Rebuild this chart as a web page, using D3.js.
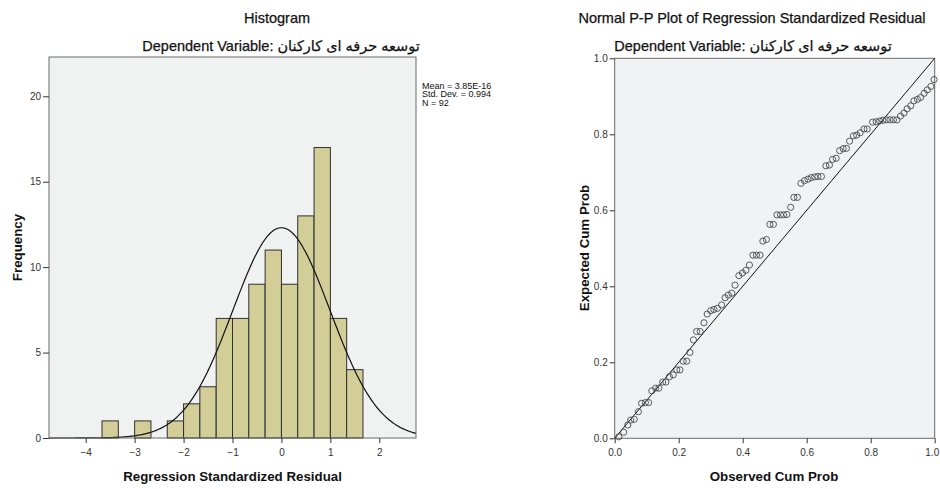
<!DOCTYPE html>
<html>
<head>
<meta charset="utf-8">
<script src="https://cdn.jsdelivr.net/npm/d3@7"></script>
<style>
  body { margin: 0; background: #fff; }
  text { font-family: "Liberation Sans", Arial, "DejaVu Sans", sans-serif; }
</style>
</head>
<body>
<script>
// histogram data (bins of width 1/3)
const binStarts = [-3.667, -3.333, -3.0, -2.667, -2.333, -2.0, -1.667, -1.333,
  -1.0, -0.667, -0.333, 0, 0.333, 0.667, 1.0, 1.333];
const binCounts = [1, 0, 1, 0, 1, 2, 3, 7, 7, 9, 11, 9, 13, 17, 7, 4];
const binWidth = 1 / 3;
const histXTicks = [-4, -3, -2, -1, 0, 1, 2];
const histYTicks = [0, 5, 10, 15, 20];
const statMean = 3.85e-16;
const statSd = 0.994;
const statN = 92;
const legendLines = ["Mean = 3.85E-16", "Std. Dev. = 0.994", "N = 92"];

// P-P plot data
const observedCum = [0.013, 0.028, 0.041, 0.050, 0.061, 0.074, 0.084, 0.096, 0.106, 0.116,
  0.128, 0.138, 0.150, 0.160, 0.171, 0.183, 0.194, 0.204, 0.214, 0.225,
  0.235, 0.246, 0.256, 0.267, 0.279, 0.289, 0.300, 0.310, 0.321, 0.334,
  0.345, 0.355, 0.366, 0.376, 0.388, 0.399, 0.410, 0.421, 0.432, 0.443,
  0.454, 0.463, 0.474, 0.485, 0.496, 0.507, 0.518, 0.528, 0.538, 0.550,
  0.560, 0.571, 0.582, 0.593, 0.604, 0.614, 0.625, 0.635, 0.646, 0.660,
  0.671, 0.681, 0.692, 0.703, 0.714, 0.724, 0.734, 0.746, 0.756, 0.767,
  0.779, 0.789, 0.806, 0.817, 0.828, 0.838, 0.849, 0.860, 0.871, 0.882,
  0.893, 0.904, 0.914, 0.925, 0.935, 0.946, 0.956, 0.967, 0.977, 0.988, 0.998];
const expectedCum = [0.004, 0.016, 0.035, 0.048, 0.050, 0.070, 0.092, 0.094, 0.094, 0.125,
  0.132, 0.132, 0.148, 0.148, 0.162, 0.167, 0.180, 0.180, 0.203, 0.203,
  0.226, 0.259, 0.281, 0.281, 0.304, 0.327, 0.336, 0.339, 0.342, 0.351,
  0.370, 0.377, 0.382, 0.403, 0.428, 0.435, 0.442, 0.456, 0.482, 0.482,
  0.482, 0.519, 0.523, 0.563, 0.563, 0.588, 0.588, 0.588, 0.589, 0.608,
  0.634, 0.634, 0.671, 0.678, 0.682, 0.686, 0.688, 0.689, 0.689, 0.717,
  0.719, 0.734, 0.737, 0.757, 0.762, 0.763, 0.782, 0.796, 0.798, 0.804,
  0.814, 0.814, 0.832, 0.833, 0.835, 0.837, 0.838, 0.838, 0.838, 0.838,
  0.848, 0.856, 0.867, 0.875, 0.888, 0.892, 0.897, 0.908, 0.917, 0.926, 0.944];
const ppTicks = [0, 0.2, 0.4, 0.6, 0.8, 1.0];

const depLabel = "Dependent Variable: توسعه حرفه ای کارکنان";

const svg = d3.select("body").append("svg")
  .attr("width", 940).attr("height", 489);

function styleAxis(g) {
  g.select(".domain").remove();
  g.selectAll(".tick line").attr("stroke", "#333");
  g.selectAll(".tick text").attr("fill", "#333").style("font-size", "10px")
    .style("font-family", "'Liberation Sans', Arial, sans-serif");
}

function title(x, y, txt) {
  svg.append("text").attr("x", x).attr("y", y).attr("text-anchor", "middle")
    .style("font-size", "14.5px").attr("fill", "#111")
    .attr("stroke", "#111").attr("stroke-width", 0.25)
    .text(txt);
}

function axisTitle(transform, txt) {
  svg.append("text").attr("transform", transform).attr("text-anchor", "middle")
    .style("font-size", "13.3px").style("font-weight", "bold").attr("fill", "#111")
    .text(txt);
}

// ---------- histogram ----------
let xH = d3.scaleLinear().domain([-4.75, 2.75]).range([49, 416]);
let yH = d3.scaleLinear().domain([0, 22.3]).range([438, 57]);

svg.append("rect")
  .attr("x", xH.range()[0]).attr("y", yH.range()[1])
  .attr("width", xH.range()[1] - xH.range()[0])
  .attr("height", yH.range()[0] - yH.range()[1])
  .attr("fill", "#f0f1f1");

svg.append("g").selectAll("rect")
  .data(binStarts.map((s, i) => ({ s: s, c: binCounts[i] })).filter(d => d.c > 0))
  .join("rect")
  .attr("x", d => xH(d.s))
  .attr("y", d => yH(d.c))
  .attr("width", d => xH(d.s + binWidth) - xH(d.s))
  .attr("height", d => yH(0) - yH(d.c))
  .attr("fill", "#d3ce97")
  .attr("stroke", "#2f2f2f")
  .attr("stroke-width", 1);

// fitted normal curve from the reported mean, sd and N
let curve = d3.line()
  .x(d => xH(d))
  .y(d => yH(statN * binWidth * Math.exp(-0.5 * Math.pow((d - statMean) / statSd, 2)) /
    (statSd * Math.sqrt(2 * Math.PI))));
svg.append("path")
  .attr("d", curve(d3.range(-4.75, 2.7501, 0.02)))
  .attr("fill", "none").attr("stroke", "#111").attr("stroke-width", 1.2);

svg.append("rect")
  .attr("x", xH.range()[0]).attr("y", yH.range()[1])
  .attr("width", xH.range()[1] - xH.range()[0])
  .attr("height", yH.range()[0] - yH.range()[1])
  .attr("fill", "none").attr("stroke", "#6a6a6a");

svg.append("g").attr("transform", "translate(0,438)")
  .call(d3.axisBottom(xH).tickValues(histXTicks).tickSize(5).tickPadding(6))
  .call(styleAxis);
svg.append("g").attr("transform", "translate(49,0)")
  .call(d3.axisLeft(yH).tickValues(histYTicks).tickSize(6).tickPadding(2))
  .call(styleAxis);

svg.append("g").selectAll("text")
  .data(legendLines).join("text")
  .attr("x", 422).attr("y", (d, i) => 88.5 + i * 8.8)
  .style("font-size", "9px").attr("fill", "#111")
  .text(d => d);

title(277, 23, "Histogram");
title(281, 51, depLabel);
axisTitle("translate(232.5,481)", "Regression Standardized Residual");
axisTitle("translate(22,247.5) rotate(-90)", "Frequency");

// ---------- P-P plot ----------
let xP = d3.scaleLinear().domain([0, 1]).range([614.7, 934.7]);
let yP = d3.scaleLinear().domain([0, 1]).range([438.3, 58.3]);

svg.append("rect")
  .attr("x", xP(0)).attr("y", yP(1))
  .attr("width", xP(1) - xP(0)).attr("height", yP(0) - yP(1))
  .attr("fill", "#f1f2f4").attr("stroke", "#6a6a6a");

svg.append("line")
  .attr("x1", xP(0)).attr("y1", yP(0)).attr("x2", xP(1)).attr("y2", yP(1))
  .attr("stroke", "#111").attr("stroke-width", 1);

svg.append("g").selectAll("circle")
  .data(observedCum.map((o, i) => [o, expectedCum[i]]))
  .join("circle")
  .attr("cx", d => xP(d[0])).attr("cy", d => yP(d[1])).attr("r", 3.1)
  .attr("fill", "none").attr("stroke", "#4a4a4a").attr("stroke-width", 0.9);

svg.append("g").attr("transform", "translate(0,438.3)")
  .call(d3.axisBottom(xP).tickValues(ppTicks).tickFormat(d3.format(".1f")).tickSize(5).tickPadding(6))
  .call(styleAxis)
  .call(g => g.selectAll(".tick text").filter(d => d === 1).attr("text-anchor", "end").attr("dx", "4px"));
svg.append("g").attr("transform", "translate(614.7,0)")
  .call(d3.axisLeft(yP).tickValues(ppTicks).tickFormat(d3.format(".1f")).tickSize(5).tickPadding(2))
  .call(styleAxis);

title(752, 23, "Normal P-P Plot of Regression Standardized Residual");
title(753, 51, depLabel);
axisTitle("translate(774,481)", "Observed Cum Prob");
axisTitle("translate(589,248) rotate(-90)", "Expected Cum Prob");
</script>
</body>
</html>
